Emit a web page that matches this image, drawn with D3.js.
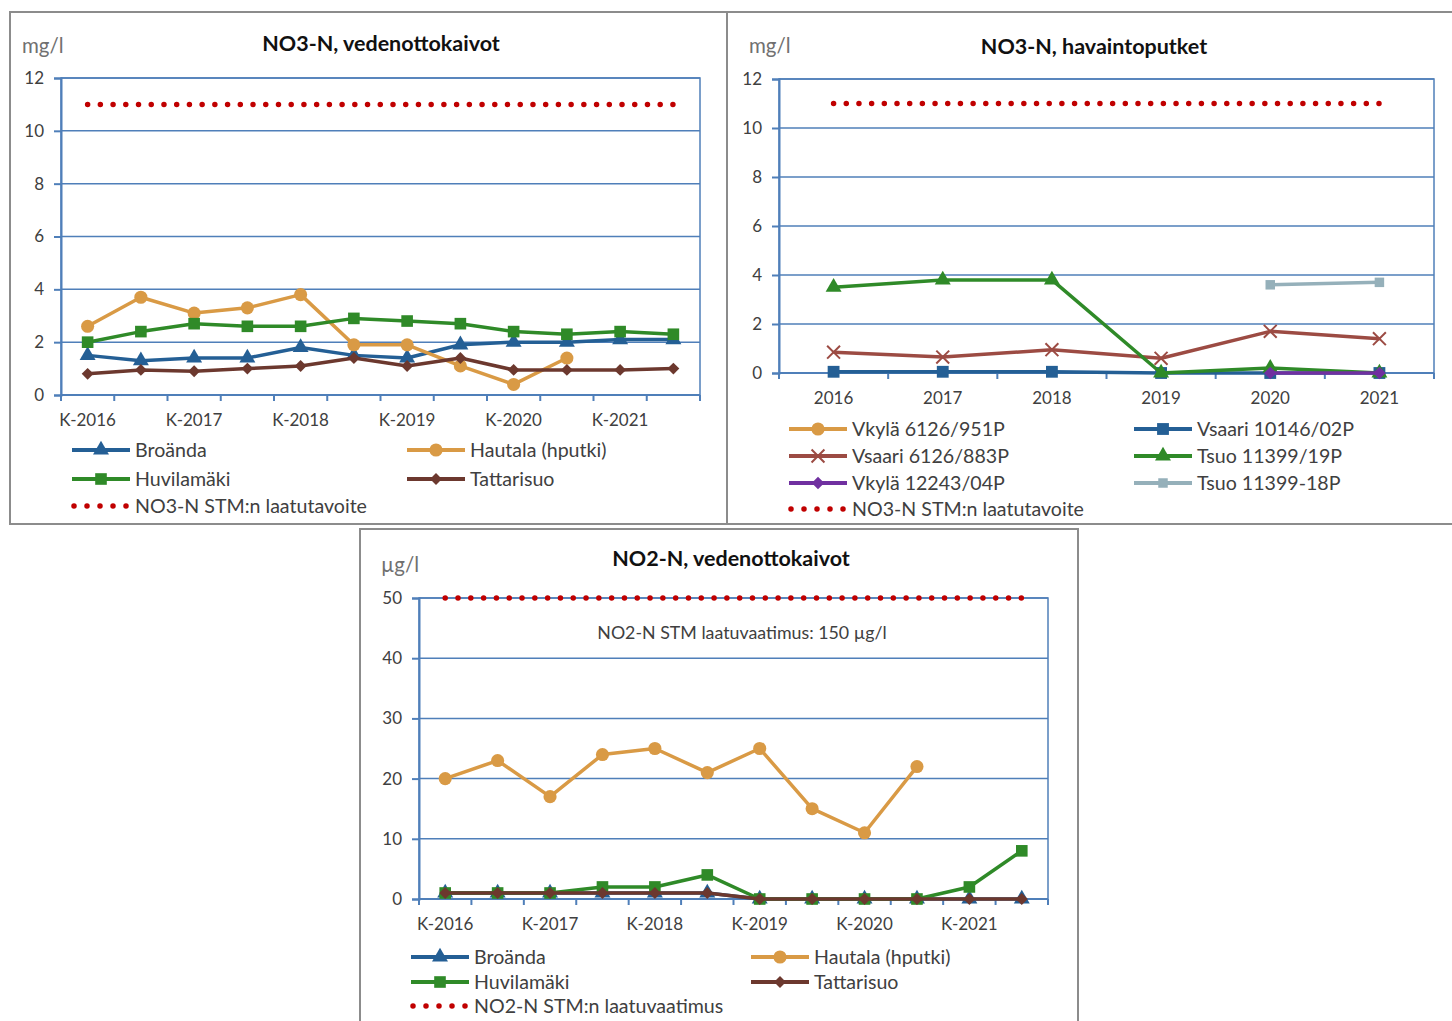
<!DOCTYPE html>
<html>
<head>
<meta charset="utf-8">
<script src="https://cdn.jsdelivr.net/npm/d3@7"></script>
<style>
  html, body { margin: 0; padding: 0; background: #fff; }
  svg text { font-family: Lato, "Open Sans", sans-serif; }
</style>
</head>
<body>
<svg id="chart" width="1452" height="1021"></svg>
<script>
// ---- sampling periods (K = kevät, S = syksy) ----
const periods = ["K-2016","S-2016","K-2017","S-2017","K-2018","S-2018",
                 "K-2019","S-2019","K-2020","S-2020","K-2021","S-2021"];
const years = ["2016","2017","2018","2019","2020","2021"];

// ---- NO3-N, vedenottokaivot (mg/l) ----
const no3Broanda    = [1.5, 1.3, 1.4, 1.4, 1.8, 1.5, 1.4, 1.9, 2.0, 2.0, 2.1, 2.1];
const no3Hautala    = [2.6, 3.7, 3.1, 3.3, 3.8, 1.9, 1.9, 1.1, 0.4, 1.4, null, null];
const no3Huvilamaki = [2.0, 2.4, 2.7, 2.6, 2.6, 2.9, 2.8, 2.7, 2.4, 2.3, 2.4, 2.3];
const no3Tattarisuo = [0.8, 0.95, 0.9, 1.0, 1.1, 1.4, 1.1, 1.4, 0.95, 0.95, 0.95, 1.0];
const no3Target     = [11, 11, 11, 11, 11, 11, 11, 11, 11, 11, 11, 11];

// ---- NO3-N, havaintoputket (mg/l) ----
const vkyla951P   = [null, null, null, null, null, null];
const vsaari02P   = [0.05, 0.05, 0.05, 0, 0, 0];
const vsaari883P  = [0.85, 0.65, 0.95, 0.6, 1.7, 1.4];
const tsuo19P     = [3.5, 3.8, 3.8, 0, 0.2, 0];
const vkyla04P    = [null, null, null, null, 0, 0];
const tsuo18P     = [null, null, null, null, 3.6, 3.7];
const pipeTarget  = [11, 11, 11, 11, 11, 11];

// ---- NO2-N, vedenottokaivot (µg/l) ----
const no2Broanda    = [1, 1, 1, 1, 1, 1, 0, 0, 0, 0, 0, 0];
const no2Hautala    = [20, 23, 17, 24, 25, 21, 25, 15, 11, 22, null, null];
const no2Huvilamaki = [1, 1, 1, 2, 2, 4, 0, 0, 0, 0, 2, 8];
const no2Tattarisuo = [1, 1, 1, 1, 1, 1, 0, 0, 0, 0, 0, 0];
const no2Target     = [50, 50, 50, 50, 50, 50, 50, 50, 50, 50, 50, 50];

// ---- colours ----
const C = {
  blue: "#245f95", orange: "#d99a45", green: "#2f8a28", brown: "#6c382e",
  rust: "#9c4b43", purple: "#7030a0", slate: "#95b0ba", red: "#c00000",
  grid: "#4f7fb9", text: "#404040", frame: "#8c8c8c"
};

const symbolCross = d3.symbolTimes || d3.symbolX;
const symbolDia = d3.symbolDiamond2 || d3.symbolDiamond;

const svg = d3.select("#chart");

function markerPath(type, size) {
  return d3.symbol().type(type).size(size)();
}

function drawChart(cfg) {
  const g = svg.append("g");
  // outer frame
  g.append("rect").attr("x", cfg.box.x).attr("y", cfg.box.y)
    .attr("width", cfg.box.w).attr("height", cfg.box.h)
    .attr("fill", "#fff").attr("stroke", C.frame).attr("stroke-width", 2);

  const p = cfg.plot;
  const x = d3.scaleBand().domain(cfg.categories).range([p.l, p.r]).padding(0);
  const y = d3.scaleLinear().domain([0, cfg.yMax]).range([p.b, p.t]);
  const cx = c => x(c) + x.bandwidth() / 2;

  // horizontal gridlines
  const yTicks = d3.range(0, cfg.yMax + 0.001, cfg.yStep);
  g.append("g").selectAll("line").data(yTicks).join("line")
    .attr("x1", p.l).attr("x2", p.r)
    .attr("y1", d => y(d)).attr("y2", d => y(d))
    .attr("stroke", C.grid).attr("stroke-width", 1.5);

  // plot border
  g.append("rect").attr("x", p.l).attr("y", p.t)
    .attr("width", p.r - p.l).attr("height", p.b - p.t)
    .attr("fill", "none").attr("stroke", C.grid).attr("stroke-width", 1.5);

  // y axis
  const ya = g.append("g").attr("transform", `translate(${p.l},0)`)
    .call(d3.axisLeft(y).tickValues(yTicks).tickSize(7).tickPadding(10).tickFormat(d3.format("d")));
  ya.select(".domain").attr("stroke", C.grid).attr("stroke-width", 2);
  ya.selectAll(".tick line").attr("stroke", C.grid).attr("stroke-width", 2);
  ya.selectAll("text").attr("fill", C.text).style("font-size", "17px")
    .style("font-family", "Lato, 'Open Sans', sans-serif");

  // x axis: boundary ticks between categories
  const bounds = d3.range(cfg.categories.length + 1).map(i => p.l + i * x.step());
  g.append("g").selectAll("line").data(bounds).join("line")
    .attr("x1", d => d).attr("x2", d => d)
    .attr("y1", p.b).attr("y2", p.b + 6)
    .attr("stroke", C.grid).attr("stroke-width", 2);
  g.append("line").attr("x1", p.l).attr("x2", p.r).attr("y1", p.b).attr("y2", p.b)
    .attr("stroke", C.grid).attr("stroke-width", 2);

  const xa = g.append("g").attr("transform", `translate(0,${p.b})`)
    .call(d3.axisBottom(x).tickSize(0).tickPadding(19)
      .tickFormat((d, i) => (cfg.labelEvery && i % cfg.labelEvery !== 0) ? "" : d));
  xa.select(".domain").remove();
  xa.selectAll("text").attr("fill", C.text).style("font-size", "17px")
    .style("font-family", "Lato, 'Open Sans', sans-serif");

  // titles
  g.append("text").attr("x", cfg.titlePos[0]).attr("y", cfg.titlePos[1])
    .attr("text-anchor", "middle").attr("font-weight", "bold")
    .attr("font-size", 21.5).attr("fill", "#111").text(cfg.title);
  g.append("text").attr("x", cfg.unitPos[0]).attr("y", cfg.unitPos[1])
    .attr("font-size", 20.5).attr("fill", "#707070").text(cfg.unit);

  if (cfg.note) {
    g.append("text").attr("x", cfg.note.x).attr("y", cfg.note.y)
      .attr("text-anchor", "middle").attr("font-size", 17.8).attr("fill", C.text)
      .text(cfg.note.text);
  }

  // series
  cfg.series.forEach(s => {
    const pts = cfg.categories.map((c, i) => ({ c, v: s.values[i] }));
    const line = d3.line().defined(d => d.v != null).x(d => cx(d.c)).y(d => y(d.v));
    if (s.dotted) {
      const len = cx(cfg.categories[cfg.categories.length - 1]) - cx(cfg.categories[0]);
      const n = Math.round(len / 12.8);
      g.append("path").datum(pts).attr("d", line).attr("fill", "none")
        .attr("stroke", s.color).attr("stroke-width", 5.5)
        .attr("stroke-linecap", "round").attr("stroke-dasharray", `0 ${len / n - 0.01}`);
      return;
    }
    g.append("path").datum(pts).attr("d", line).attr("fill", "none")
      .attr("stroke", s.color).attr("stroke-width", 3.5).attr("stroke-linejoin", "round");
    g.append("g").selectAll("path").data(pts.filter(d => d.v != null)).join("path")
      .attr("transform", d => `translate(${cx(d.c)},${y(d.v)})`)
      .attr("d", markerPath(s.symbol, s.size))
      .attr("fill", s.symbol === symbolCross ? "none" : s.color)
      .attr("stroke", s.color)
      .attr("stroke-width", s.symbol === symbolCross ? 2 : 0);
  });

  // legend
  cfg.legend.forEach(L => {
    const s = cfg.series[L.i];
    const lg = g.append("g").attr("transform", `translate(${L.x},${L.y})`);
    if (s.dotted) {
      lg.append("line").attr("x1", 2).attr("x2", 55).attr("y1", 0).attr("y2", 0)
        .attr("stroke", s.color).attr("stroke-width", 5.5)
        .attr("stroke-linecap", "round").attr("stroke-dasharray", "0 13");
    } else {
      lg.append("line").attr("x1", 0).attr("x2", 58).attr("y1", 0).attr("y2", 0)
        .attr("stroke", s.color).attr("stroke-width", 4);
      lg.append("path").attr("transform", "translate(29,0)")
        .attr("d", markerPath(s.symbol, s.size))
        .attr("fill", s.symbol === symbolCross ? "none" : s.color)
        .attr("stroke", s.color)
        .attr("stroke-width", s.symbol === symbolCross ? 2 : 0);
    }
    lg.append("text").attr("x", 63).attr("y", 7).attr("font-size", 19.6)
      .attr("fill", C.text).text(s.name);
  });
}

// ---- Chart 1 ----
drawChart({
  box: { x: 10, y: 12, w: 717, h: 512 },
  plot: { l: 61, t: 78, r: 700, b: 395 },
  categories: periods, labelEvery: 2, yMax: 12, yStep: 2,
  title: "NO3-N, vedenottokaivot", titlePos: [381, 51],
  unit: "mg/l", unitPos: [22, 53],
  series: [
    { name: "Broända", values: no3Broanda, color: C.blue, symbol: d3.symbolTriangle, size: 110 },
    { name: "Hautala (hputki)", values: no3Hautala, color: C.orange, symbol: d3.symbolCircle, size: 135 },
    { name: "Huvilamäki", values: no3Huvilamaki, color: C.green, symbol: d3.symbolSquare, size: 135 },
    { name: "Tattarisuo", values: no3Tattarisuo, color: C.brown, symbol: symbolDia, size: 90 },
    { name: "NO3-N STM:n laatutavoite", values: no3Target, color: C.red, dotted: true }
  ],
  legend: [
    { i: 0, x: 72, y: 450 }, { i: 1, x: 407, y: 450 },
    { i: 2, x: 72, y: 479 }, { i: 3, x: 407, y: 479 },
    { i: 4, x: 72, y: 506 }
  ]
});

// ---- Chart 2 ----
drawChart({
  box: { x: 727, y: 12, w: 740, h: 512 },
  plot: { l: 779, t: 79, r: 1434, b: 373 },
  categories: years, yMax: 12, yStep: 2,
  title: "NO3-N, havaintoputket", titlePos: [1094, 54],
  unit: "mg/l", unitPos: [749, 53],
  series: [
    { name: "Vkylä 6126/951P", values: vkyla951P, color: C.orange, symbol: d3.symbolCircle, size: 135 },
    { name: "Vsaari 10146/02P", values: vsaari02P, color: C.blue, symbol: d3.symbolSquare, size: 140 },
    { name: "Vsaari 6126/883P", values: vsaari883P, color: C.rust, symbol: symbolCross, size: 110 },
    { name: "Tsuo 11399/19P", values: tsuo19P, color: C.green, symbol: d3.symbolTriangle, size: 110 },
    { name: "Vkylä 12243/04P", values: vkyla04P, color: C.purple, symbol: symbolDia, size: 100 },
    { name: "Tsuo 11399-18P", values: tsuo18P, color: C.slate, symbol: d3.symbolSquare, size: 90 },
    { name: "NO3-N STM:n laatutavoite", values: pipeTarget, color: C.red, dotted: true }
  ],
  legend: [
    { i: 0, x: 789, y: 429 }, { i: 1, x: 1134, y: 429 },
    { i: 2, x: 789, y: 456 }, { i: 3, x: 1134, y: 456 },
    { i: 4, x: 789, y: 483 }, { i: 5, x: 1134, y: 483 },
    { i: 6, x: 789, y: 509 }
  ]
});

// ---- Chart 3 ----
drawChart({
  box: { x: 360, y: 529, w: 718, h: 510 },
  plot: { l: 419, t: 598, r: 1048, b: 899 },
  categories: periods, labelEvery: 2, yMax: 50, yStep: 10,
  title: "NO2-N, vedenottokaivot", titlePos: [731, 566],
  unit: "µg/l", unitPos: [381, 572],
  note: { x: 742, y: 639, text: "NO2-N STM laatuvaatimus: 150 µg/l" },
  series: [
    { name: "Broända", values: no2Broanda, color: C.blue, symbol: d3.symbolTriangle, size: 110 },
    { name: "Hautala (hputki)", values: no2Hautala, color: C.orange, symbol: d3.symbolCircle, size: 135 },
    { name: "Huvilamäki", values: no2Huvilamaki, color: C.green, symbol: d3.symbolSquare, size: 135 },
    { name: "Tattarisuo", values: no2Tattarisuo, color: C.brown, symbol: symbolDia, size: 90 },
    { name: "NO2-N STM:n laatuvaatimus", values: no2Target, color: C.red, dotted: true }
  ],
  legend: [
    { i: 0, x: 411, y: 957 }, { i: 1, x: 751, y: 957 },
    { i: 2, x: 411, y: 982 }, { i: 3, x: 751, y: 982 },
    { i: 4, x: 411, y: 1006 }
  ]
});
</script>
</body>
</html>
